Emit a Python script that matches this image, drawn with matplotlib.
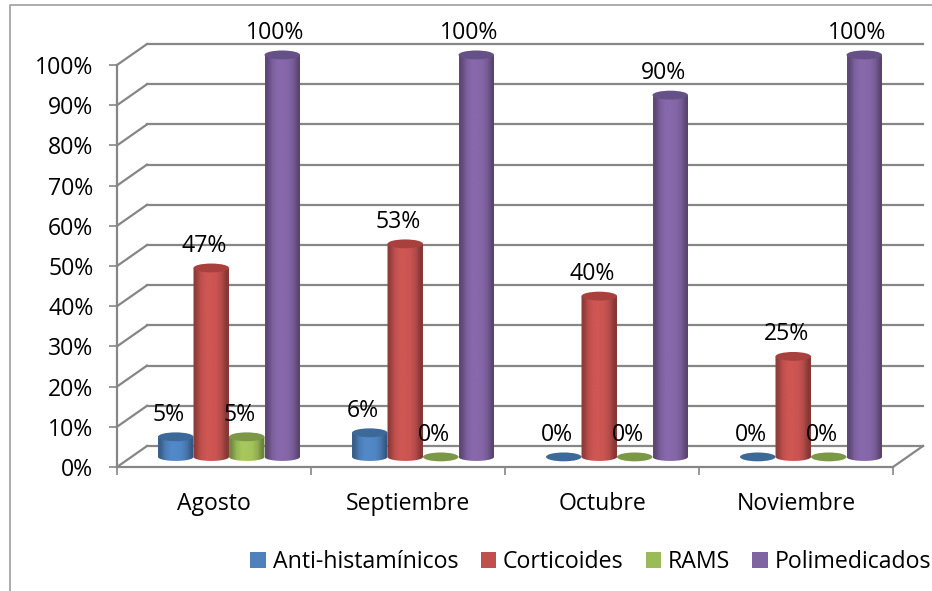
import numpy as np
import matplotlib
matplotlib.use('Agg')
import matplotlib.pyplot as plt
from matplotlib.lines import Line2D
from matplotlib.patches import Ellipse, Patch, PathPatch
from matplotlib.path import Path

months = ['Agosto', 'Septiembre', 'Octubre', 'Noviembre']
series = ['Anti-histamínicos', 'Corticoides', 'RAMS', 'Polimedicados']
antihist = [5, 6, 0, 0]
corticoides = [47, 53, 40, 25]
rams = [5, 0, 0, 0]
polimed = [100, 100, 90, 100]
yticks = [0, 10, 20, 30, 40, 50, 60, 70, 80, 90, 100]

plt.rcParams['font.family'] = 'Open Sans'
FS = 16.6
GRAY = '#868686'

body = ['#5288c8', '#ce5653', '#a6c75c', '#8768ab']
top = ['#3d6999', '#a8413e', '#7a9845', '#665088']
legend_col = ['#4f81bd', '#c0504d', '#9bbb59', '#8064a2']

f = plt.figure(figsize=(9.32, 5.91), dpi=100)
ax = f.add_axes([117/932, 1-467/591, 776/932, 402/591])
ax.set_xlim(0, 4)
ax.set_ylim(0, 100)

# depth of the fake 3d box, in data units
DX = 30/194
DY = 21/4.02
BW = 0.183
RY = 1.0

# walls and floor
for v in yticks:
    ax.plot([DX, 4+DX], [v+DY, v+DY], color=GRAY, lw=1.6, clip_on=False, zorder=1)
    ax.plot([0, DX], [v, v+DY], color=GRAY, lw=1.6, clip_on=False, zorder=1)
ax.plot([4, 4+DX], [0, DY], color=GRAY, lw=1.6, clip_on=False, zorder=1)

order = 10
for s, vals in enumerate([antihist, corticoides, rams, polimed]):
    for m, v in enumerate(vals):
        xc = m + 0.5 + DX/2 + (s-1.5)*BW
        y0 = DY/2 - 0.1
        yt = v + y0
        if v > 0:
            t = np.linspace(np.pi, 2*np.pi, 30)
            xs = xc + BW/2*np.cos(t)
            ys = y0 + RY*np.sin(t)
            pts = list(zip(xs, ys)) + [(xc+BW/2, yt), (xc-BW/2, yt), (xs[0], ys[0])]
            clip = PathPatch(Path(pts), transform=ax.transData, fc='none', ec='none')
            c = np.array(matplotlib.colors.to_rgb(body[s]))
            shade = np.array([0.7, 0.92, 1.0, 1.0, 0.98, 0.88, 0.66]).reshape(1, -1, 1)
            grad = shade*c.reshape(1, 1, 3)
            im = ax.imshow(grad, extent=[xc-BW/2, xc+BW/2, y0-RY, yt], aspect='auto',
                           interpolation='bilinear', zorder=order)
            ax.add_patch(clip)
            im.set_clip_box(f.bbox)
            im.set_clip_path(clip)
        ax.add_patch(Ellipse((xc, yt), BW, 2*RY*1.1, fc=top[s], ec='none',
                             clip_on=False, zorder=order+0.5))
        ax.annotate('%d%%' % v, (xc, yt), xytext=(-7, 22), textcoords='offset pixels',
                    ha='center', va='center', fontsize=FS, color='black',
                    annotation_clip=False, zorder=100)
        order += 1

ax.set_xlim(0, 4)
ax.set_ylim(0, 100)

for sp in ['top', 'right']:
    ax.spines[sp].set_visible(False)
for sp in ['left', 'bottom']:
    ax.spines[sp].set_color(GRAY)
    ax.spines[sp].set_linewidth(1.6)
ax.patch.set_alpha(0)

ax.set_yticks(yticks)
ax.set_yticklabels(['%d%%' % v for v in yticks], fontsize=FS)
ax.set_xticks([0, 1, 2, 3, 4])
ax.set_xticklabels([])
ax.set_xticks([0.5, 1.5, 2.5, 3.5], minor=True)
ax.set_xticklabels(months, minor=True, fontsize=FS)
ax.tick_params(axis='x', which='major', length=6, width=1.2, color=GRAY)
ax.tick_params(axis='x', which='minor', length=0, pad=18)
ax.tick_params(axis='y', length=6, width=1.2, color=GRAY, pad=11)

# outer frame of the chart, only top and left show
f.add_artist(Line2D([10/932, 10/932, 1], [0, 1-5/591, 1-5/591], color='#a6a6a6', lw=1.3))

handles = [Patch(fc=c, ec='none') for c in legend_col]
f.legend(handles, series, loc='center right', bbox_to_anchor=(931/932, 1-562/591),
         ncol=4, frameon=False, fontsize=16.7, handlelength=0.65, handleheight=0.65,
         handletextpad=0.3, columnspacing=0.97, borderpad=0, borderaxespad=0)

plt.savefig('out.png', dpi=100)
